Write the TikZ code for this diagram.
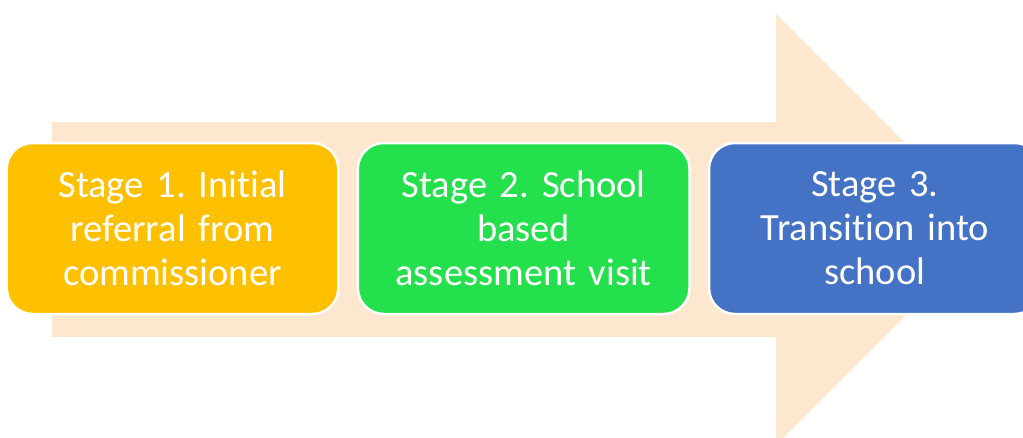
\documentclass[tikz,border=0pt]{standalone}
\usepackage{fontspec}
\setmainfont[Ligatures=NoCommon]{Carlito}
\usepackage{xcolor}
\usepackage{tikz}
\usetikzlibrary{positioning}
\frenchspacing
\definecolor{arrowpeach}{RGB}{253,232,207}
\definecolor{stageorange}{RGB}{255,192,0}
\definecolor{stagegreen}{RGB}{35,224,76}
\definecolor{stageblue}{RGB}{68,114,196}
\tikzstyle{stagebox} = [rectangle, rounded corners=26pt, minimum width=331pt, minimum height=171pt, text width=325pt, align=center, draw=white, line width=2.5pt, text=white, font=\fontsize{38.5}{44}\selectfont]

\begin{document}
\begin{tikzpicture}[x=1pt, y=-1pt, node distance=17pt]
\useasboundingbox (0,0) rectangle (1023,437);
\clip (0,0) rectangle (1023,437);

% big background arrow
\fill[arrowpeach] (52,122) -- (776,122) -- (776,14) -- (991.5,229.5)
  -- (776,445) -- (776,337) -- (52,337) -- cycle;

\node (stage1) [stagebox, fill=stageorange] at (172.5,228.5) {Stage 1. Initial\\referral from\\commissioner};
\node (stage2) [stagebox, fill=stagegreen, right=of stage1] {Stage 2. School\\based\\assessment visit};
\node (stage3) [stagebox, fill=stageblue, right=of stage2] {Stage 3.\\Transition into\\school};

\end{tikzpicture}
\end{document}
